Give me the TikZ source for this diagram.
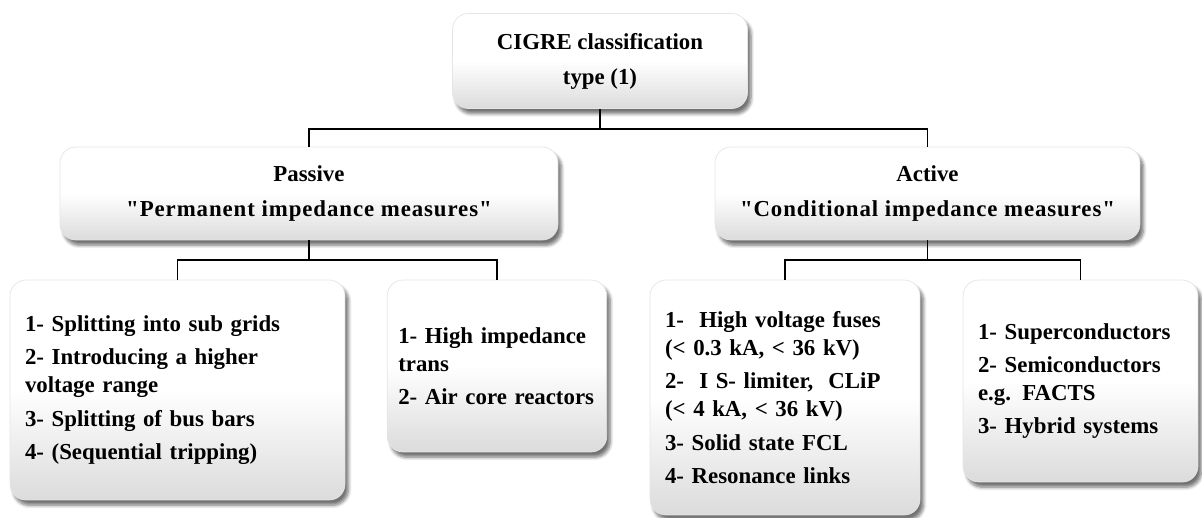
\documentclass[tikz,border=0pt]{standalone}
\usepackage{fontspec}
\setmainfont{Liberation Serif}[Ligatures=TeXOff]
\usepackage{tikz}
\usetikzlibrary{shadows.blur}
\tikzset{>=latex}
\colorlet{boxfill}{black!14}
\colorlet{boxline}{black!10}
\colorlet{conncol}{black}
\tikzstyle{box}=[rounded corners=9pt,draw=boxline,top color=white,bottom color=boxfill,middle color=white,
                 blur shadow={shadow xshift=2pt,shadow yshift=-3pt,shadow blur steps=6,shadow opacity=55},
                 font=\bfseries\fontsize{13}{16}\selectfont,inner sep=0pt]
\tikzstyle{head box}=[box,align=center]
\tikzstyle{conn}=[conncol,line width=1.1pt]
\tikzset{
  list box/.style={box,align=left,inner xsep=0.3cm,text width=#1},
  list box/.default=4cm}

\begin{document}
\begin{tikzpicture}[x=0.02cm,y=-0.02cm]
  \useasboundingbox (0,0) rectangle (1202,517);

  % TOP
  \node[head box,minimum width=5.9cm,minimum height=1.9cm] (cigre) at (600,61)
    {CIGRE classification\\[4pt] type (1)};

  % PASSIVE / ACTIVE
  \node[head box,minimum width=9.96cm,minimum height=1.86cm] (passive) at (309,193.5)
    {Passive\\[4pt] {\addfontfeature{LetterSpace=4}"Permanent impedance measures"}};
  \node[head box,minimum width=8.5cm,minimum height=1.86cm] (active) at (927.5,193.5)
    {Active\\[4pt] {\addfontfeature{LetterSpace=4}"Conditional impedance measures"}};

  % LISTS
  \node[list box=6.1cm,minimum height=4.4cm] (split) at (177.5,390)
    {1- Splitting into sub grids\\[3pt]
     2- Introducing a higher\\ voltage range\\[3pt]
     3- Splitting of bus bars\\[3pt]
     4- (Sequential tripping)};
  \node[list box=3.95cm,inner xsep=0.22cm,minimum height=3.44cm] (imped) at (497,366)
    {1- High impedance\\ trans\\[3pt]
     2- Air core reactors};
  \node[list box=4.8cm,minimum height=4.7cm] (fuses) at (785,397.5)
    {1-\ \ High voltage fuses\\ (< 0.3 kA, < 36 kV)\\[3pt]
     2-\ \ I S- limiter,\ \ CLiP\\ (< 4 kA, < 36 kV)\\[3pt]
     3- Solid state FCL\\[3pt]
     4- Resonance links};
  \node[list box=4.1cm,minimum height=4.04cm] (super) at (1080.5,381)
    {1- Superconductors\\[3pt]
     2- Semiconductors\\ e.g. FACTS\\[3pt]
     3- Hybrid systems};

  % CONNECTORS
  \draw[conn] (cigre.south) -- ++(0,20) coordinate (topbus);
  \draw[conn] (passive.north) |- (topbus) -| (active.north);
  \draw[conn] (passive.south) -- ++(0,20) coordinate (pbus);
  \draw[conn] (split.north) |- (pbus) -| (imped.north);
  \draw[conn] (active.south) -- ++(0,20) coordinate (abus);
  \draw[conn] (fuses.north) |- (abus) -| (super.north);

\end{tikzpicture}
\end{document}
